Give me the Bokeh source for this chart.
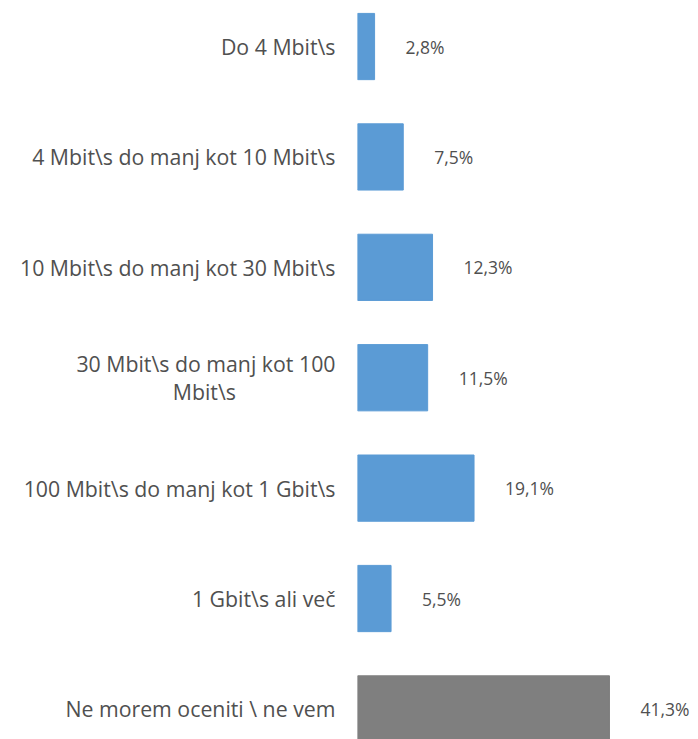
from bokeh.plotting import figure
from bokeh.models import ColumnDataSource, Range1d, FixedTicker, LabelSet
from bokeh.core.properties import value
from bokeh.embed import file_html
from bokeh.resources import INLINE

NB = "\u00a0"
categories = [
    "Do 4 Mbit\\s",
    "4 Mbit\\s do manj kot 10 Mbit\\s",
    "10 Mbit\\s do manj kot 30 Mbit\\s",
    "30 Mbit\\s do manj kot 100\nMbit\\s" + NB * 18,
    "100 Mbit\\s do manj kot 1 Gbit\\s",
    "1 Gbit\\s ali več",
    "Ne morem oceniti \\ ne vem",
]
values = [2.8, 7.5, 12.3, 11.5, 19.1, 5.5, 41.3]
labels = ["2,8%", "7,5%", "12,3%", "11,5%", "19,1%", "5,5%", "41,3%"]
colors = ["#5B9BD5"] * 6 + ["#7F7F7F"]

n = len(categories)
ypos = [n - 1 - i for i in range(n)]

src = ColumnDataSource(dict(y=ypos, v=values, lab=labels, c=colors))

p = figure(width=698, height=739, output_backend="svg", toolbar_location=None,
           x_range=Range1d(0, 55.89), y_range=Range1d(-0.277, 6.417),
           min_border_left=357, min_border_right=0, min_border_top=0, min_border_bottom=0)

p.hbar(y="y", right="v", left=0, height=0.6, color="c", source=src)

lbl = LabelSet(x="v", y="y", text="lab", source=src, x_offset=31, y_offset=0,
               text_baseline="middle", text_align="left", text_font=value("Open Sans"),
               text_font_size="17.5px", text_color="#505050")
p.add_layout(lbl)

p.xaxis.visible = False
p.yaxis.ticker = FixedTicker(ticks=ypos)
p.yaxis.major_label_overrides = {y: c for y, c in zip(ypos, categories)}
p.yaxis.axis_line_color = None
p.yaxis.major_tick_line_color = None
p.yaxis.minor_tick_line_color = None
p.yaxis.major_label_standoff = 16
p.yaxis.major_label_text_font = "Open Sans"
p.yaxis.major_label_text_font_size = "21.3px"
p.yaxis.major_label_text_line_height = 0.95
p.yaxis.major_label_text_color = "#505050"
p.xgrid.visible = False
p.ygrid.visible = False
p.outline_line_color = None

open("out.html", "w").write(file_html(p, INLINE))
